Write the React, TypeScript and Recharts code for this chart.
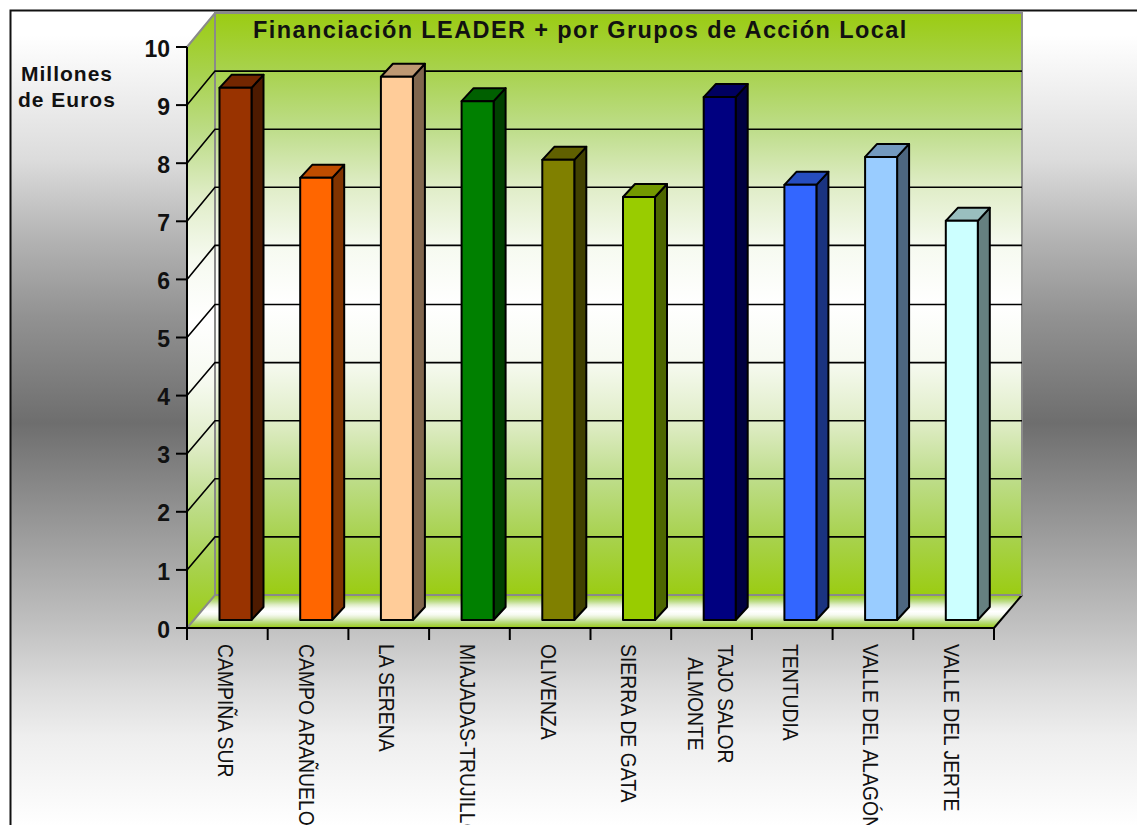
import { BarChart, Bar, XAxis, YAxis, CartesianGrid, Cell } from "recharts";

const categories = [
  "CAMPIÑA SUR",
  "CAMPO ARAÑUELO",
  "LA SERENA",
  "MIAJADAS-TRUJILLO",
  "OLIVENZA",
  "SIERRA DE GATA",
  "TAJO SALOR\nALMONTE",
  "TENTUDIA",
  "VALLE DEL ALAGÓN",
  "VALLE DEL JERTE",
];
const values = [9.16, 7.61, 9.35, 8.93, 7.92, 7.28, 9.0, 7.49, 7.97, 6.87];
const colors = [
  "#993300", "#FF6600", "#FFCC99", "#008000", "#808000",
  "#99CC00", "#000080", "#3366FF", "#99CCFF", "#CCFFFF",
];
const yTicks = [0, 1, 2, 3, 4, 5, 6, 7, 8, 9, 10];

const data = categories.map((name, i) => ({ name, value: values[i], color: colors[i] }));

const W = 1137;
const H = 825;
const LEFT = 187;
const RIGHT = 994;
const TOP = 47;
const BOTTOM = 628;
const DX = 28;
const DY = 33;
const BAND = (RIGHT - LEFT) / categories.length;
const FONT = "'Liberation Sans', Arial, sans-serif";

// office-style gradients
const pageStops: [number, string][] = [
  [0, "#ffffff"], [0.03, "#ffffff"], [0.18, "#dcdcdc"], [0.28, "#b2b2b2"], [0.37, "#929292"],
  [0.5, "#6e6e6e"], [0.565, "#848484"], [0.63, "#9a9a9a"], [0.69, "#aeaeae"], [0.755, "#c4c4c4"],
  [0.82, "#dcdcdc"], [0.88, "#eeeeee"], [0.99, "#ffffff"],
];
const wallStops: [number, string][] = [
  [0, "#9BCC12"], [0.1, "#A8D24E"], [0.2, "#BEDD8A"], [0.3, "#E0EDC8"], [0.4, "#F6FAF0"],
  [0.5, "#FFFFFF"], [0.6, "#F6FAF0"], [0.7, "#E0EDC8"], [0.8, "#BEDD8A"], [0.9, "#A8D24E"], [1, "#9BCC12"],
];

const shade = (hex: string, k: number) => {
  const n = parseInt(hex.slice(1), 16);
  const c = [(n >> 16) & 255, (n >> 8) & 255, n & 255].map((v) => Math.round(v * k));
  return `rgb(${c[0]},${c[1]},${c[2]})`;
};

// 3D column: front face pushed into the floor, plus side and top faces
const Column3D = (props: any) => {
  const { x, y, width, height, payload } = props;
  const fx = x + 8.5;
  const fy = y - 8;
  const d = 12;
  const e = 13;
  const c = payload.color;
  return (
    <g stroke="#000" strokeWidth={2} strokeLinejoin="round">
      <path
        d={`M${fx + width},${fy} l${d},${-e} v${height} l${-d},${e} z`}
        fill={shade(c, 0.5)}
      />
      <path
        d={`M${fx},${fy} l${d},${-e} h${width} l${-d},${e} z`}
        fill={shade(c, 0.75)}
      />
      <rect x={fx} y={fy} width={width} height={height} fill={c} />
    </g>
  );
};

// grid line runs up the left wall, then across the back wall
const GridLine3D = (props: any) => {
  const { y1 } = props;
  const edge = Math.abs(y1 - TOP) < 1 || Math.abs(y1 - BOTTOM) < 1;
  const color = edge ? "#8a8a8a" : "#000";
  const backY = y1 - (y1 < 300 ? DY + 1 : DY);
  return (
    <path
      key={y1}
      d={`M${LEFT},${y1} L${LEFT + DX},${backY} H${RIGHT + DX}`}
      fill="none"
      stroke={color}
      strokeWidth={edge ? 2 : 1.6}
    />
  );
};

const CategoryTick = (props: any) => {
  const { x, payload, index } = props;
  const left = x - BAND / 2;
  const lines = String(payload.value).split("\n");
  const textProps = { fontFamily: FONT, fontSize: 22, fill: "#111" };
  return (
    <g>
      <line x1={left} x2={left} y1={BOTTOM} y2={BOTTOM + 12} stroke="#000" strokeWidth={2} />
      {index === categories.length - 1 && (
        <line x1={left + BAND} x2={left + BAND} y1={BOTTOM} y2={BOTTOM + 12} stroke="#000" strokeWidth={2} />
      )}
      {lines.length === 1 ? (
        <text transform={`translate(${x - 9.5},644) rotate(90) scale(0.88,1)`} {...textProps}>
          {lines[0]}
        </text>
      ) : (
        lines.map((line, i) => (
          <text
            key={line}
            transform={`translate(${x + 6 - i * 30},704) rotate(90) scale(0.88,1)`}
            textAnchor="middle"
            {...textProps}
          >
            {line}
          </text>
        ))
      )}
    </g>
  );
};

const Backdrop = () => (
  <svg width={W} height={H} style={{ position: "absolute", left: 0, top: 0 }}>
    <defs>
      <linearGradient id="page" x1="0" y1="0" x2="0" y2="1">
        {pageStops.map(([o, c]) => (
          <stop key={o} offset={o} stopColor={c} />
        ))}
      </linearGradient>
      <linearGradient id="wall" x1="0" y1="0" x2="0" y2="1">
        {wallStops.map(([o, c]) => (
          <stop key={o} offset={o} stopColor={c} />
        ))}
      </linearGradient>
    </defs>
    <rect x={10.5} y={10.5} width={W} height={H} fill="url(#page)" stroke="#111" strokeWidth={2} />
    <polygon
      points={`${LEFT},${TOP} ${LEFT + DX},${TOP - DY - 1} ${LEFT + DX},${BOTTOM - DY} ${LEFT},${BOTTOM}`}
      fill="url(#wall)"
    />
    <rect x={LEFT + DX} y={TOP - DY - 1} width={RIGHT - LEFT} height={BOTTOM - TOP + 1} fill="url(#wall)" />
    <polygon
      points={`${LEFT},${BOTTOM} ${LEFT + DX},${BOTTOM - DY} ${RIGHT + DX},${BOTTOM - DY} ${RIGHT},${BOTTOM}`}
      fill="url(#wall)"
    />
    <path
      d={`M${LEFT + DX},${BOTTOM - DY} V${TOP - DY - 1} H${RIGHT + DX} V${BOTTOM - DY}`}
      fill="none"
      stroke="#8a8a8a"
      strokeWidth={2}
    />
    <line x1={RIGHT + DX} y1={BOTTOM - DY} x2={RIGHT} y2={BOTTOM} stroke="#000" strokeWidth={2} />
    <text x={253} y={38} fontFamily={FONT} fontSize={23.5} fontWeight="bold" fill="#111" letterSpacing={1.4}>
      Financiación LEADER + por Grupos de Acción Local
    </text>
    <text x={21} y={81} fontFamily={FONT} fontSize={21} fontWeight="bold" fill="#111" letterSpacing={1}>
      Millones
    </text>
    <text x={18} y={107} fontFamily={FONT} fontSize={21} fontWeight="bold" fill="#111" letterSpacing={1}>
      de Euros
    </text>
  </svg>
);

const App = () => {
  return (
    <div style={{ position: "fixed", left: 0, top: 0, width: W, height: H, overflow: "hidden", background: "#fff" }}>
      <Backdrop />
      <div style={{ position: "absolute", left: 0, top: 0 }}>
        <BarChart
          width={W}
          height={H}
          data={data}
          barSize={32}
          margin={{ top: TOP, left: LEFT - 60, right: W - RIGHT, bottom: H - BOTTOM - 150 }}
        >
          <CartesianGrid vertical={false} horizontal={GridLine3D} />
          <XAxis
            dataKey="name"
            height={150}
            interval={0}
            tickLine={false}
            axisLine={{ stroke: "#000", strokeWidth: 2 }}
            tick={CategoryTick}
          />
          <YAxis
            domain={[0, 10]}
            ticks={yTicks}
            width={60}
            interval={0}
            tickSize={11}
            tickMargin={6}
            tickLine={{ stroke: "#000", strokeWidth: 2 }}
            axisLine={{ stroke: "#000", strokeWidth: 2 }}
            tick={{ fill: "#111", fontFamily: FONT, fontSize: 23, fontWeight: "bold", dy: 1.5 }}
          />
          <Bar dataKey="value" isAnimationActive={false} shape={Column3D}>
            {data.map((d) => (
              <Cell key={d.name} fill={d.color} />
            ))}
          </Bar>
        </BarChart>
      </div>
    </div>
  );
};

export default App;
